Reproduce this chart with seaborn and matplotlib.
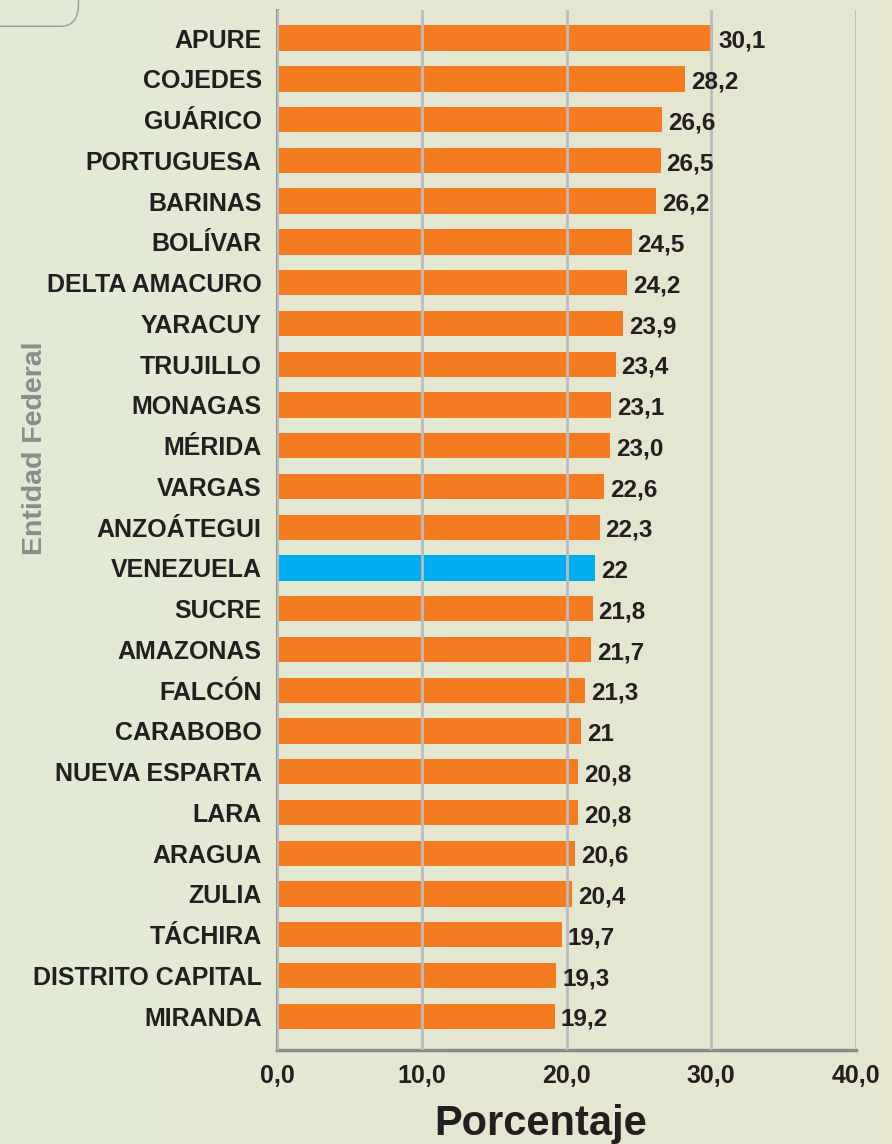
import numpy as np
import pandas as pd
import matplotlib
matplotlib.use("Agg")
import matplotlib.pyplot as plt
from matplotlib.patches import FancyBboxPatch
import seaborn as sns

# --- DATI ---
entidades = ["APURE", "COJEDES", "GUÁRICO", "PORTUGUESA", "BARINAS", "BOLÍVAR",
             "DELTA AMACURO", "YARACUY", "TRUJILLO", "MONAGAS", "MÉRIDA", "VARGAS",
             "ANZOÁTEGUI", "VENEZUELA", "SUCRE", "AMAZONAS", "FALCÓN", "CARABOBO",
             "NUEVA ESPARTA", "LARA", "ARAGUA", "ZULIA", "TÁCHIRA",
             "DISTRITO CAPITAL", "MIRANDA"]
valores = [30.1, 28.2, 26.6, 26.5, 26.2, 24.5, 24.2, 23.9, 23.4, 23.1, 23.0, 22.6,
           22.3, 22.0, 21.8, 21.7, 21.3, 21.0, 20.8, 20.8, 20.6, 20.4, 19.7, 19.3, 19.2]
etiquette = ["30,1", "28,2", "26,6", "26,5", "26,2", "24,5", "24,2", "23,9", "23,4",
             "23,1", "23,0", "22,6", "22,3", "22", "21,8", "21,7", "21,3", "21",
             "20,8", "20,8", "20,6", "20,4", "19,7", "19,3", "19,2"]
xticks = [0, 10, 20, 30, 40]
xtick_labels = ["0,0", "10,0", "20,0", "30,0", "40,0"]

arancio = "#f47b20"
azzurro = "#00aeef"
colori = [azzurro if e == "VENEZUELA" else arancio for e in entidades]

df = pd.DataFrame({"entidad": entidades, "valor": valores})

sns.set_theme(style="white")
plt.rcParams["font.family"] = ["Liberation Sans", "DejaVu Sans"]

fig = plt.figure(figsize=(8.92, 11.44), dpi=100)

# sfondo sfumato (verde chiaro -> beige)
bg = fig.add_axes([0, 0, 1, 1], zorder=-10)
grad = np.linspace(0, 1, 256).reshape(1, -1)
cmap_bg = matplotlib.colors.LinearSegmentedColormap.from_list("bg", ["#e2ebd7", "#e5e7d1", "#e6e6cf"])
bg.imshow(grad, aspect="auto", cmap=cmap_bg, extent=[0, 1, 0, 1])
bg.set_axis_off()

# riquadro arrotondato in alto a sinistra
box = FancyBboxPatch((-0.05, 0.977), 0.138, 0.06, boxstyle="round,pad=0,rounding_size=0.02",
                     transform=fig.transFigure, facecolor="none", edgecolor="#9a9a9a", linewidth=1.0)
fig.patches.append(box)

ax = fig.add_axes([277 / 892, 1 - 1050 / 1144, 579 / 892, 1040 / 1144])
ax.set_facecolor("none")

sns.barplot(data=df, x="valor", y="entidad", hue="entidad", palette=colori, legend=False,
            width=0.62, saturation=1, linewidth=0, ax=ax, zorder=1)

ax.set_xlim(0, 40)
ax.set_ylim(24.83, -0.69)

# griglia verticale sopra le barre
ax.set_axisbelow(False)
ax.xaxis.grid(True, color="#bcbcbc", linewidth=2.0, zorder=2)
ax.yaxis.grid(False)

ax.set_xticks(xticks)
ax.set_xticklabels(xtick_labels, fontsize=18, fontweight="bold", color="#231f20")
ax.tick_params(axis="x", length=0, pad=10)
ax.tick_params(axis="y", length=0, pad=11)
for lab in ax.get_yticklabels():
    lab.set_fontsize(18)
    lab.set_fontweight("bold")
    lab.set_color("#231f20")

for s in ["top", "right"]:
    ax.spines[s].set_visible(False)
ax.spines["left"].set_color("#8a8a8a")
ax.spines["left"].set_linewidth(2)
ax.spines["bottom"].set_color("#8a8a8a")
ax.spines["bottom"].set_linewidth(2.5)

# etichette dei valori
for i, (v, t) in enumerate(zip(valores, etiquette)):
    ax.text(v + 0.4, i + 0.08, t, va="center", ha="left", fontsize=17.5,
            fontweight="bold", color="#231f20", zorder=3)

ax.set_xlabel("")
ax.set_ylabel("")

fig.text(541 / 892, 1 - 1124 / 1144, "Porcentaje", ha="center", va="center",
         fontsize=30, fontweight="bold", color="#231f20")
fig.text(35 / 892, 1 - 448 / 1144, "Entidad Federal", ha="center", va="center",
         rotation=90, fontsize=20.5, fontweight="bold", color="#8c8c8c")

fig.savefig("out.png", dpi=100)
